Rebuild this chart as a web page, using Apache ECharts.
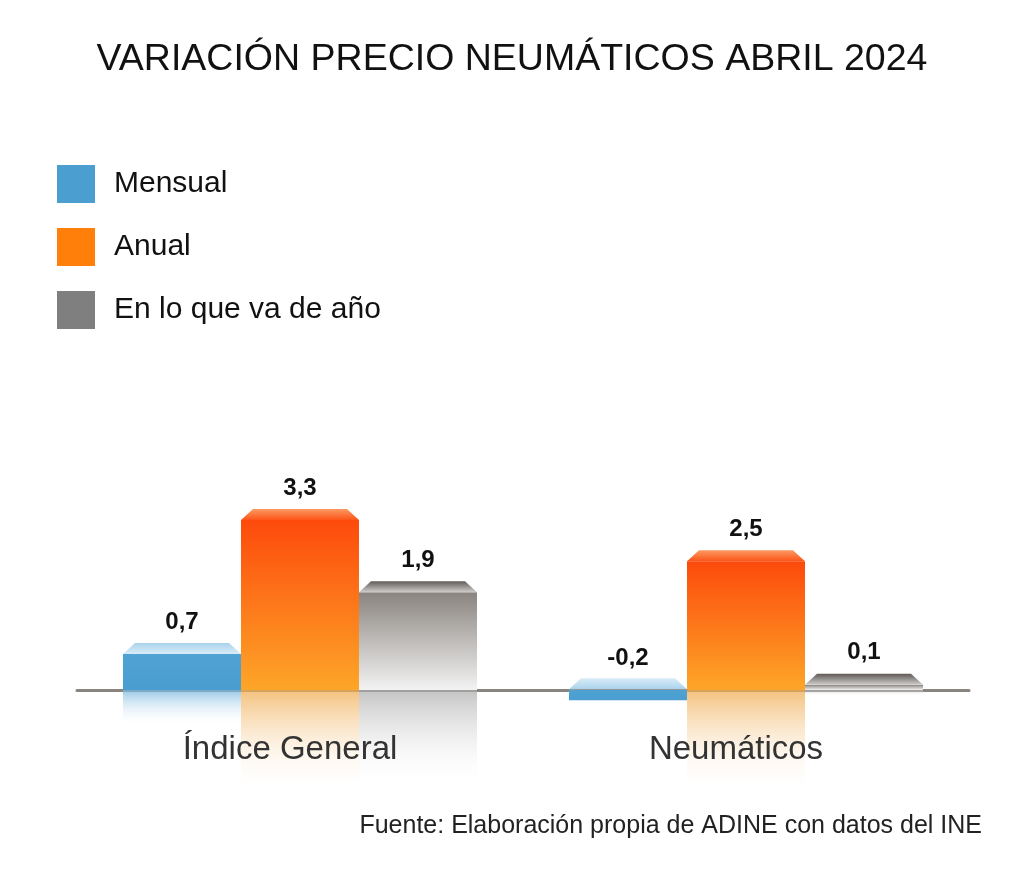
<!DOCTYPE html>
<html><head><meta charset="utf-8">
<script src="https://cdn.jsdelivr.net/npm/echarts@6/dist/echarts.min.js"></script>
<style>html,body{margin:0;padding:0;background:#fff}#c{width:1024px;height:896px}</style>
</head><body><div id="c"></div>
<script>
// ---- data ----
const categories = ['Índice General', 'Neumáticos'];
const seriesNames = ['Mensual', 'Anual', 'En lo que va de año'];
const mensual = [0.7, -0.2];
const anual = [3.3, 2.5];
const enLoQueVa = [1.9, 0.1];
const yMin = -2, yMax = 4;

// ---- styles ----
const FONT = 'Liberation Sans, Arial, sans-serif';
const lg = (c0, c1) => ({ type: 'linear', x: 0, y: 0, x2: 0, y2: 1, colorStops: [{ offset: 0, color: c0 }, { offset: 1, color: c1 }] });
const styles = [
  { legend: '#4a9fd0', face: lg('#4fa2d3', '#4a9dd0'), bevel: lg('#a9d3ec', '#d9ecf7'), refl: lg('rgba(120,182,222,0.75)', 'rgba(255,255,255,0)') },
  { legend: '#ff7f0a', face: lg('#fd4a0c', '#fda628'), bevel: lg('#fb9a62', '#fd5418'), refl: lg('rgba(240,172,80,0.75)', 'rgba(255,255,255,0)') },
  { legend: '#7f7f7f', face: lg('#8a847f', '#f3f3f3'), bevel: lg('#5f5a56', '#cfcdcb'), refl: lg('rgba(170,170,170,0.7)', 'rgba(255,255,255,0)') }
];
const datasets = [mensual, anual, enLoQueVa];
const fmt = v => v.toFixed(1).replace('.', ',');
const BAR_W = 118;
const bevelPath = 'path://M0,11 L12,0 L106,0 L118,11 Z';
const bevelPathFlip = 'path://M0,0 L118,0 L106,11 L12,11 Z';

const series = [];
datasets.forEach((d, i) => {
  series.push({
    name: seriesNames[i], type: 'bar', stack: 's' + i, data: d,
    barWidth: BAR_W, barGap: '0%',
    itemStyle: { color: styles[i].face },
    label: { show: true, position: 'top', distance: 20, formatter: p => fmt(p.value),
      fontFamily: FONT, fontWeight: 'bold', fontSize: 24, color: '#111' },
    z: 3
  });
  series.push({
    name: 'refl' + i, type: 'bar', stack: 's' + i,
    data: d.map(v => (v > 0 ? -v : 0)),
    barWidth: BAR_W, barGap: '0%',
    itemStyle: { color: styles[i].refl },
    label: { show: false }, silent: true, z: 1
  });
});
datasets.forEach((d, i) => {
  series.push({
    name: 'bevel' + i, type: 'pictorialBar',
    data: d.map(v => (v < 0 ? { value: v, symbol: bevelPathFlip } : v)),
    barWidth: BAR_W, barGap: '0%',
    symbol: bevelPath, symbolSize: ['100%', 11], symbolPosition: 'end',
    symbolOffset: [0, '-100%'],
    itemStyle: { color: styles[i].bevel }, silent: true, z: 4
  });
});

const chart = echarts.init(document.getElementById('c'));
chart.setOption({
  animation: false,
  backgroundColor: '#fff',
  title: [
    { text: 'VARIACIÓN PRECIO NEUMÁTICOS ABRIL 2024', left: 'center', top: 41, padding: 0,
      textStyle: { fontFamily: FONT, fontSize: 37.5, fontWeight: 'normal', color: '#111' } },
    { text: 'Fuente: Elaboración propia de ADINE con datos del INE', right: 42, top: 814, padding: 0,
      textStyle: { fontFamily: FONT, fontSize: 25, fontWeight: 'normal', color: '#222' } }
  ],
  legend: {
    orient: 'vertical', left: 57, top: 165, padding: 0,
    itemWidth: 38, itemHeight: 38, itemGap: 25, icon: 'rect',
    data: seriesNames.map((n, i) => ({ name: n, itemStyle: { color: styles[i].legend } })),
    textStyle: { fontFamily: FONT, fontSize: 30, color: '#111', padding: [0, 0, 0, 14] },
    selectedMode: false
  },
  grid: { left: 77, right: 55, top: 484, bottom: 103 },
  xAxis: [
    {
      type: 'category', data: categories,
      axisLine: { onZero: true, lineStyle: { color: '#8a847e', width: 3 } },
      axisTick: { show: false },
      axisLabel: { show: false }
    },
    {
      type: 'category', data: categories, position: 'bottom', z: 20,
      axisLine: { show: false }, axisTick: { show: false },
      axisLabel: { margin: -60, padding: [0, 20, 0, 0], fontFamily: FONT, fontSize: 33, color: '#333' }
    }
  ],
  yAxis: { type: 'value', min: yMin, max: yMax, show: false, splitLine: { show: false } },
  series
});
</script></body></html>
